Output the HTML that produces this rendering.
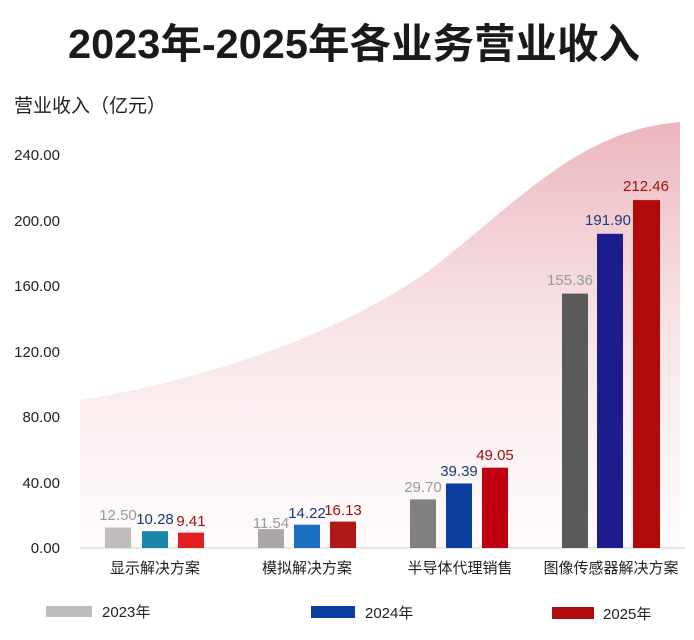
<!DOCTYPE html>
<html><head><meta charset="utf-8"><style>
body{margin:0;background:#fff;}
svg{display:block;font-family:"Liberation Sans","Noto Sans CJK SC",sans-serif;}
</style></head><body>
<svg width="694" height="640" viewBox="0 0 694 640">
<defs>
<linearGradient id="g" x1="0" y1="0" x2="0" y2="1">
<stop offset="0" stop-color="#e8a8b0" stop-opacity="0.85"/>
<stop offset="0.5" stop-color="#f3d3d7" stop-opacity="0.6"/>
<stop offset="1" stop-color="#fbeef0" stop-opacity="0.3"/>
</linearGradient>
</defs>
<path d="M80,400 C200,380 330,340 430,270 C520,200 580,130 680,122 L680,548 L80,548 Z" fill="url(#g)"/>
<text x="354" y="58" text-anchor="middle" font-size="41" font-weight="bold" fill="#1a1a1a" textLength="572" lengthAdjust="spacingAndGlyphs">2023年-2025年各业务营业收入</text>
<text x="14" y="112" font-size="19" fill="#222">营业收入（亿元）</text>
<g font-size="15" fill="#222" text-anchor="end">
<text x="60" y="553">0.00</text><text x="60" y="488">40.00</text><text x="60" y="422">80.00</text>
<text x="60" y="357">120.00</text><text x="60" y="291">160.00</text><text x="60" y="226">200.00</text><text x="60" y="160">240.00</text>
</g>
<line x1="80" y1="548" x2="685" y2="548" stroke="#ddd" stroke-width="1.5"/>
<g>
<rect x="105" y="527.5" width="26" height="20.5" fill="#c0bcbc"/>
<rect x="142" y="531.2" width="26" height="16.8" fill="#1a87a8"/>
<rect x="178" y="532.6" width="26" height="15.4" fill="#e02020"/>
<rect x="258" y="529.1" width="26" height="18.9" fill="#aaa6a6"/>
<rect x="294" y="524.7" width="26" height="23.3" fill="#1a6fc0"/>
<rect x="330" y="521.6" width="26" height="26.4" fill="#b01818"/>
<rect x="410" y="499.4" width="26" height="48.6" fill="#808080"/>
<rect x="446" y="483.5" width="26" height="64.5" fill="#0a3fa0"/>
<rect x="482" y="467.7" width="26" height="80.3" fill="#c00010"/>
<rect x="562" y="293.6" width="26" height="254.4" fill="#5a5a5a"/>
<rect x="597" y="233.8" width="26" height="314.2" fill="#1c1c8c"/>
<rect x="633" y="200.1" width="27" height="347.9" fill="#b00a0a"/>
</g>
<g font-size="15" text-anchor="middle">
<text x="118" y="520" fill="#999">12.50</text>
<text x="155" y="524" fill="#1a3a7a">10.28</text>
<text x="191" y="526" fill="#a01010">9.41</text>
<text x="271" y="528" fill="#999">11.54</text>
<text x="307" y="518" fill="#1a3a7a">14.22</text>
<text x="343" y="515" fill="#a01010">16.13</text>
<text x="423" y="492" fill="#999">29.70</text>
<text x="459" y="476" fill="#1a3a7a">39.39</text>
<text x="495" y="460" fill="#a01010">49.05</text>
<text x="570" y="285" fill="#999">155.36</text>
<text x="608" y="225" fill="#1a3a7a">191.90</text>
<text x="646" y="191" fill="#a01010">212.46</text>
</g>
<g font-size="15" fill="#222" text-anchor="middle">
<text x="155" y="573">显示解决方案</text>
<text x="307" y="573">模拟解决方案</text>
<text x="460" y="573">半导体代理销售</text>
<text x="611" y="573">图像传感器解决方案</text>
</g>
<rect x="46" y="606" width="46" height="11" fill="#bdbdbd"/>
<text x="102" y="617" font-size="15" fill="#222">2023年</text>
<rect x="311" y="606" width="44" height="12" fill="#0a3fa0"/>
<text x="365" y="618" font-size="15" fill="#222">2024年</text>
<rect x="552" y="607" width="42" height="12" fill="#b00a0a"/>
<text x="603" y="619" font-size="15" fill="#222">2025年</text>
</svg>
</body></html>
